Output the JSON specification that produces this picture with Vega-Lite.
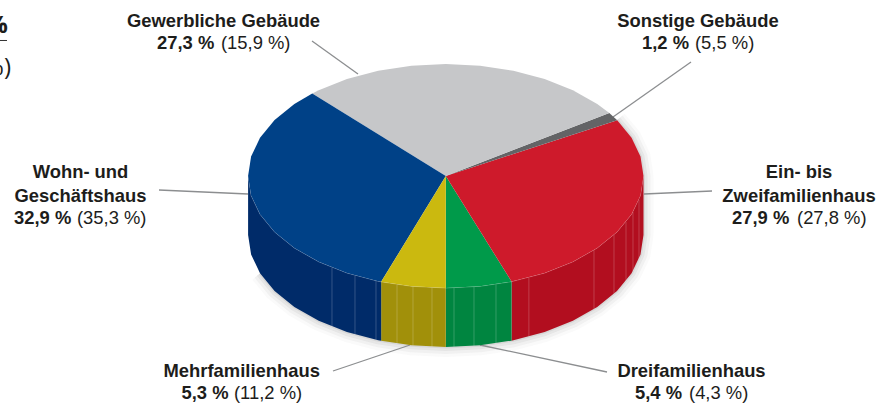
{
"$schema":"https://vega.github.io/schema/vega-lite/v6.json",
"width":884,"height":403,"padding":0,
"autosize":{"type":"none"},
"background":"white",
"view":{"stroke":null},
"config":{"text":{"font":"Liberation Sans","fontSize":18.4,"color":"#1d1d1b"}},
"datasets":{
"top":[
{"slice":"Dreifamilienhaus","i":0,"x":0,"y":0},{"slice":"Dreifamilienhaus","i":1,"x":0,"y":-1},{"slice":"Dreifamilienhaus","i":2,"x":0.1736,"y":-0.9848},{"slice":"Dreifamilienhaus","i":3,"x":0.3328,"y":-0.943},
{"slice":"Ein- bis Zweifamilienhaus","i":0,"x":0,"y":0},{"slice":"Ein- bis Zweifamilienhaus","i":1,"x":0.3328,"y":-0.943},{"slice":"Ein- bis Zweifamilienhaus","i":2,"x":0.5,"y":-0.866},{"slice":"Ein- bis Zweifamilienhaus","i":3,"x":0.6428,"y":-0.766},{"slice":"Ein- bis Zweifamilienhaus","i":4,"x":0.766,"y":-0.6428},{"slice":"Ein- bis Zweifamilienhaus","i":5,"x":0.866,"y":-0.5},{"slice":"Ein- bis Zweifamilienhaus","i":6,"x":0.9397,"y":-0.342},{"slice":"Ein- bis Zweifamilienhaus","i":7,"x":0.9848,"y":-0.1736},{"slice":"Ein- bis Zweifamilienhaus","i":8,"x":1,"y":0},{"slice":"Ein- bis Zweifamilienhaus","i":9,"x":0.9848,"y":0.1736},{"slice":"Ein- bis Zweifamilienhaus","i":10,"x":0.9397,"y":0.342},{"slice":"Ein- bis Zweifamilienhaus","i":11,"x":0.8671,"y":0.4982},
{"slice":"Sonstige Gebäude","i":0,"x":0,"y":0},{"slice":"Sonstige Gebäude","i":1,"x":0.8671,"y":0.4982},{"slice":"Sonstige Gebäude","i":2,"x":0.8271,"y":0.5621},
{"slice":"Gewerbliche Gebäude","i":0,"x":0,"y":0},{"slice":"Gewerbliche Gebäude","i":1,"x":0.8271,"y":0.5621},{"slice":"Gewerbliche Gebäude","i":2,"x":0.766,"y":0.6428},{"slice":"Gewerbliche Gebäude","i":3,"x":0.6428,"y":0.766},{"slice":"Gewerbliche Gebäude","i":4,"x":0.5,"y":0.866},{"slice":"Gewerbliche Gebäude","i":5,"x":0.342,"y":0.9397},{"slice":"Gewerbliche Gebäude","i":6,"x":0.1736,"y":0.9848},{"slice":"Gewerbliche Gebäude","i":7,"x":0,"y":1},{"slice":"Gewerbliche Gebäude","i":8,"x":-0.1736,"y":0.9848},{"slice":"Gewerbliche Gebäude","i":9,"x":-0.342,"y":0.9397},{"slice":"Gewerbliche Gebäude","i":10,"x":-0.5,"y":0.866},{"slice":"Gewerbliche Gebäude","i":11,"x":-0.6428,"y":0.766},{"slice":"Gewerbliche Gebäude","i":12,"x":-0.6755,"y":0.7373},
{"slice":"Wohn- und Geschäftshaus","i":0,"x":0,"y":0},{"slice":"Wohn- und Geschäftshaus","i":1,"x":-0.6755,"y":0.7373},{"slice":"Wohn- und Geschäftshaus","i":2,"x":-0.766,"y":0.6428},{"slice":"Wohn- und Geschäftshaus","i":3,"x":-0.866,"y":0.5},{"slice":"Wohn- und Geschäftshaus","i":4,"x":-0.9397,"y":0.342},{"slice":"Wohn- und Geschäftshaus","i":5,"x":-0.9848,"y":0.1736},{"slice":"Wohn- und Geschäftshaus","i":6,"x":-1,"y":0},{"slice":"Wohn- und Geschäftshaus","i":7,"x":-0.9848,"y":-0.1736},{"slice":"Wohn- und Geschäftshaus","i":8,"x":-0.9397,"y":-0.342},{"slice":"Wohn- und Geschäftshaus","i":9,"x":-0.866,"y":-0.5},{"slice":"Wohn- und Geschäftshaus","i":10,"x":-0.766,"y":-0.6428},{"slice":"Wohn- und Geschäftshaus","i":11,"x":-0.6428,"y":-0.766},{"slice":"Wohn- und Geschäftshaus","i":12,"x":-0.5,"y":-0.866},{"slice":"Wohn- und Geschäftshaus","i":13,"x":-0.342,"y":-0.9397},{"slice":"Wohn- und Geschäftshaus","i":14,"x":-0.3269,"y":-0.9451},
{"slice":"Mehrfamilienhaus","i":0,"x":0,"y":0},{"slice":"Mehrfamilienhaus","i":1,"x":-0.3269,"y":-0.9451},{"slice":"Mehrfamilienhaus","i":2,"x":-0.1736,"y":-0.9848},{"slice":"Mehrfamilienhaus","i":3,"x":0,"y":-1}
],
"wall":[
{"slice":"Ein- bis Zweifamilienhaus","i":0,"x":1,"y":0,"base":-0.527},{"slice":"Ein- bis Zweifamilienhaus","i":1,"x":0.9848,"y":-0.1736,"base":-0.7006},{"slice":"Ein- bis Zweifamilienhaus","i":2,"x":0.9397,"y":-0.342,"base":-0.869},{"slice":"Ein- bis Zweifamilienhaus","i":3,"x":0.866,"y":-0.5,"base":-1.027},{"slice":"Ein- bis Zweifamilienhaus","i":4,"x":0.766,"y":-0.6428,"base":-1.1698},{"slice":"Ein- bis Zweifamilienhaus","i":5,"x":0.6428,"y":-0.766,"base":-1.293},{"slice":"Ein- bis Zweifamilienhaus","i":6,"x":0.5,"y":-0.866,"base":-1.393},{"slice":"Ein- bis Zweifamilienhaus","i":7,"x":0.3328,"y":-0.943,"base":-1.47},
{"slice":"Dreifamilienhaus","i":0,"x":0.3328,"y":-0.943,"base":-1.47},{"slice":"Dreifamilienhaus","i":1,"x":0.1736,"y":-0.9848,"base":-1.5118},{"slice":"Dreifamilienhaus","i":2,"x":0,"y":-1,"base":-1.527},
{"slice":"Mehrfamilienhaus","i":0,"x":0,"y":-1,"base":-1.527},{"slice":"Mehrfamilienhaus","i":1,"x":-0.1736,"y":-0.9848,"base":-1.5118},{"slice":"Mehrfamilienhaus","i":2,"x":-0.3269,"y":-0.9451,"base":-1.4721},
{"slice":"Wohn- und Geschäftshaus","i":0,"x":-0.3269,"y":-0.9451,"base":-1.4721},{"slice":"Wohn- und Geschäftshaus","i":1,"x":-0.342,"y":-0.9397,"base":-1.4667},{"slice":"Wohn- und Geschäftshaus","i":2,"x":-0.5,"y":-0.866,"base":-1.393},{"slice":"Wohn- und Geschäftshaus","i":3,"x":-0.6428,"y":-0.766,"base":-1.293},{"slice":"Wohn- und Geschäftshaus","i":4,"x":-0.766,"y":-0.6428,"base":-1.1698},{"slice":"Wohn- und Geschäftshaus","i":5,"x":-0.866,"y":-0.5,"base":-1.027},{"slice":"Wohn- und Geschäftshaus","i":6,"x":-0.9397,"y":-0.342,"base":-0.869},{"slice":"Wohn- und Geschäftshaus","i":7,"x":-0.9848,"y":-0.1736,"base":-0.7006},{"slice":"Wohn- und Geschäftshaus","i":8,"x":-1,"y":0,"base":-0.527}
],
"silhouette":[
{"i":0,"x":0.866,"y":0.5},{"i":1,"x":0.9397,"y":0.342},{"i":2,"x":0.9848,"y":0.1736},{"i":3,"x":1,"y":0},{"i":4,"x":1,"y":-0.527},{"i":5,"x":0.9848,"y":-0.7006},{"i":6,"x":0.9397,"y":-0.869},{"i":7,"x":0.866,"y":-1.027},{"i":8,"x":0.766,"y":-1.1698},{"i":9,"x":0.6428,"y":-1.293},{"i":10,"x":0.5,"y":-1.393},{"i":11,"x":0.342,"y":-1.4667},{"i":12,"x":0.1736,"y":-1.5118},{"i":13,"x":0,"y":-1.527},{"i":14,"x":-0.1736,"y":-1.5118},{"i":15,"x":-0.342,"y":-1.4667},{"i":16,"x":-0.5,"y":-1.393},{"i":17,"x":-0.6428,"y":-1.293},{"i":18,"x":-0.766,"y":-1.1698},{"i":19,"x":-0.866,"y":-1.027},{"i":20,"x":-0.9397,"y":-0.869}
],
"seams":[
{"x":-0.5756,"y":-0.8177,"base":-1.3447},{"x":-0.4593,"y":-0.8883,"base":-1.4153},{"x":-0.3531,"y":-0.9356,"base":-1.4626},{"x":-0.2468,"y":-0.9691,"base":-1.4961},{"x":-0.1659,"y":-0.9861,"base":-1.5131},{"x":-0.0698,"y":-0.9976,"base":-1.5246},{"x":0.0415,"y":-0.9991,"base":-1.5261},{"x":0.1426,"y":-0.9898,"base":-1.5168},{"x":0.2539,"y":-0.9672,"base":-1.4942},{"x":0.4203,"y":-0.9074,"base":-1.4344},{"x":0.7496,"y":-0.6619,"base":-1.1889},{"x":0.8508,"y":-0.5255,"base":-1.0525},{"x":0.9115,"y":-0.4113,"base":-0.9383},{"x":0.9469,"y":-0.3215,"base":-0.8485},{"x":0.9772,"y":-0.2122,"base":-0.7392}
],
"leaders":[
{"x":-0.6768,"y":1.2054,"xEnd":-0.4441,"yEnd":0.9107},
{"x":1.2403,"y":1.0179,"xEnd":0.8457,"yEnd":0.5268},
{"x":1.0025,"y":-0.1607,"xEnd":1.3465,"yEnd":-0.1339},
{"x":-1.4507,"y":-0.125,"xEnd":-1.0005,"yEnd":-0.1607},
{"x":-0.5706,"y":-1.7411,"xEnd":-0.1811,"yEnd":-1.5089},
{"x":0.173,"y":-1.5089,"xEnd":0.8154,"yEnd":-1.75}
],
"names":[
{"label":"Gewerbliche Gebäude","x":-1.1244,"y":1.3839},
{"label":"Sonstige Gebäude","x":1.2757,"y":1.3839},
{"label":"Ein- bis","x":1.7866,"y":0.0357},
{"label":"Zweifamilienhaus","x":1.7866,"y":-0.1786},
{"label":"Wohn- und","x":-1.8478,"y":0.0357},
{"label":"Geschäftshaus","x":-1.8478,"y":-0.1786},
{"label":"Mehrfamilienhaus","x":-1.0324,"y":-1.7411},
{"label":"Dreifamilienhaus","x":1.2428,"y":-1.7411}
],
"shares":[
{"label":"27,3 %","x":-1.4608,"y":1.1875},
{"label":"1,2 %","x":0.9924,"y":1.1875},
{"label":"27,9 %","x":1.4476,"y":-0.375},
{"label":"32,9 %","x":-2.1842,"y":-0.375},
{"label":"5,3 %","x":-1.3369,"y":-1.9375},
{"label":"5,4 %","x":0.957,"y":-1.9375}
],
"previous":[
{"label":"(15,9 %)","x":-1.1371,"y":1.1875},
{"label":"(5,5 %)","x":1.2605,"y":1.1875},
{"label":"(27,8 %)","x":1.7765,"y":-0.375},
{"label":"(35,3 %)","x":-1.8655,"y":-0.375},
{"label":"(11,2 %)","x":-1.0713,"y":-1.9375},
{"label":"(4,3 %)","x":1.2302,"y":-1.9375}
],
"headerBold":[{"label":"%","x":-2.2145,"y":1.2768}],
"headerPlain":[{"label":"%)","x":-2.1993,"y":0.9018}],
"headerRule":[{"x":-2.2549,"xEnd":-2.2195,"y":1.2098}]
},
"encoding":{
"x":{"field":"x","type":"quantitative","axis":null,"scale":{"domain":[-2.2549,2.2165],"nice":false,"zero":false}},
"y":{"field":"y","type":"quantitative","axis":null,"scale":{"domain":[-2.0268,1.5714],"nice":false,"zero":false}}
},
"layer":[
{"data":{"name":"silhouette"},"mark":{"type":"line","stroke":"#555555","strokeWidth":20,"opacity":0.03,"strokeJoin":"round"},"encoding":{"order":{"field":"i"}}},
{"data":{"name":"silhouette"},"mark":{"type":"line","stroke":"#555555","strokeWidth":14,"opacity":0.05,"strokeJoin":"round"},"encoding":{"order":{"field":"i"}}},
{"data":{"name":"silhouette"},"mark":{"type":"line","stroke":"#555555","strokeWidth":8,"opacity":0.07,"strokeJoin":"round"},"encoding":{"order":{"field":"i"}}},
{"data":{"name":"silhouette"},"mark":{"type":"line","stroke":"#555555","strokeWidth":3,"opacity":0.1,"strokeJoin":"round"},"encoding":{"order":{"field":"i"}}},
{"data":{"name":"leaders"},"mark":{"type":"rule","color":"#8c8e90","strokeWidth":1.3},"encoding":{"x2":{"field":"xEnd"},"y2":{"field":"yEnd"}}},
{"data":{"name":"wall"},"mark":{"type":"area","orient":"vertical"},"encoding":{
"y2":{"field":"base"},
"color":{"field":"slice","type":"nominal","legend":null,"scale":{"domain":["Ein- bis Zweifamilienhaus","Dreifamilienhaus","Mehrfamilienhaus","Wohn- und Geschäftshaus"],"range":["#b20e1f","#008540","#a1900a","#002b69"]}}}},
{"data":{"name":"seams"},"mark":{"type":"rule","color":"white","strokeWidth":1,"opacity":0.2},"encoding":{"y2":{"field":"base"}}},
{"data":{"name":"wall"},"mark":{"type":"line","stroke":"white","strokeWidth":0.8,"opacity":0.3},"encoding":{"detail":{"field":"slice"},"order":{"field":"i"}}},
{"data":{"name":"top"},"mark":{"type":"line","filled":true,"strokeWidth":0},"encoding":{
"order":{"field":"i"},
"color":{"field":"slice","type":"nominal","legend":null,"scale":{"domain":["Dreifamilienhaus","Ein- bis Zweifamilienhaus","Sonstige Gebäude","Gewerbliche Gebäude","Wohn- und Geschäftshaus","Mehrfamilienhaus"],"range":["#009a4a","#ce1a2b","#636466","#c6c7c9","#004187","#cbb90f"]}}}},
{"data":{"name":"names"},"mark":{"type":"text","fontWeight":"bold","align":"center","baseline":"middle"},"encoding":{"text":{"field":"label"}}},
{"data":{"name":"shares"},"mark":{"type":"text","fontWeight":"bold","align":"left","baseline":"middle"},"encoding":{"text":{"field":"label"}}},
{"data":{"name":"previous"},"mark":{"type":"text","align":"left","baseline":"middle"},"encoding":{"text":{"field":"label"}}},
{"data":{"name":"headerBold"},"mark":{"type":"text","font":"Open Sans","fontWeight":"bold","fontSize":24,"align":"right","baseline":"alphabetic"},"encoding":{"text":{"field":"label"}}},
{"data":{"name":"headerPlain"},"mark":{"type":"text","font":"Open Sans","fontSize":24,"align":"right","baseline":"alphabetic"},"encoding":{"text":{"field":"label"}}},
{"data":{"name":"headerRule"},"mark":{"type":"rule","color":"#333333","strokeWidth":1},"encoding":{"x2":{"field":"xEnd"}}}
],
"resolve":{"scale":{"color":"independent"}}
}
